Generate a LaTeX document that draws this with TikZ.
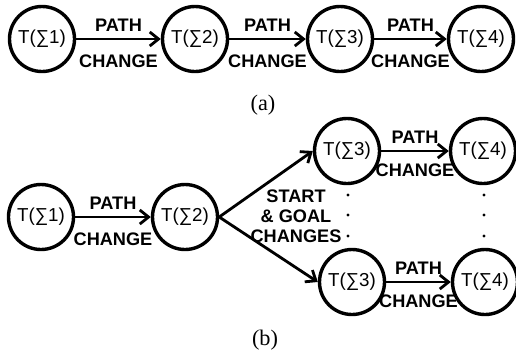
\documentclass[tikz,border=0pt]{standalone}
\usepackage{fontspec}
\setmainfont{Liberation Serif}
\setsansfont{Liberation Sans}
\usetikzlibrary{arrows.meta}

\begin{document}
\begin{tikzpicture}[x=0.03cm,y=-0.03cm,
	state/.style={draw,circle,line width=2.9pt,minimum size=1.95cm,inner sep=0pt,font=\sffamily\fontsize{16}{18}\selectfont},
	lab/.style={font=\sffamily\bfseries\fontsize{15.5}{17}\selectfont,inner sep=2pt},
	edge/.style={line width=2.4pt,-{Straight Barb[length=7.5pt,width=12pt]}},
	dot/.style={circle,fill,inner sep=0pt,minimum size=2.6pt}]

\useasboundingbox (0,0) rectangle (516,352);

% (a)
\foreach[count=\c] \x in {42,195,340,481}
	\node[state] (a\c) at (\x,39) {T(∑\c)};

\foreach \c/\d in {1/2,2/3,3/4}
	\draw[edge] (a\c) -- node[lab,above=3.5pt]{PATH} node[lab,below=10pt]{CHANGE} (a\d);

\node (capa) at (263,105) {\fontsize{19}{22}\selectfont (a)};

% (b)
\node[state] (b1) at (41,217) {T(∑1)};
\node[state] (b2) at (185,217) {T(∑2)};
\node[state] (b3u) at (347,151) {T(∑3)};
\node[state] (b4u) at (483,151) {T(∑4)};
\node[state] (b3l) at (352,282) {T(∑3)};
\node[state] (b4l) at (485,282) {T(∑4)};

\draw[edge] (b1) -- node[lab,above=3.5pt]{PATH} node[lab,below=10pt]{CHANGE} (b2);
\draw[edge] (b3u) -- node[lab,above=3.5pt]{PATH} node[lab,below=8pt]{CHANGE} (b4u);
\draw[edge] (b3l) -- node[lab,above=3.5pt]{PATH} node[lab,below=8pt]{CHANGE} (b4l);

\draw[edge] (b2.east) -- (b3u.west);
\draw[edge] (b2.east) -- (b3l.west);

\node[lab,align=center] (sg) at (296,216) {START\\\& GOAL\\CHANGES};

\foreach[count=\c] \y in {195,215,236}{
	\node[dot] (dl\c) at (348,\y) {};
	\node[dot] (dr\c) at (484,\y) {};
}

\node (capb) at (265,340) {\fontsize{19}{22}\selectfont (b)};

\end{tikzpicture}
\end{document}
